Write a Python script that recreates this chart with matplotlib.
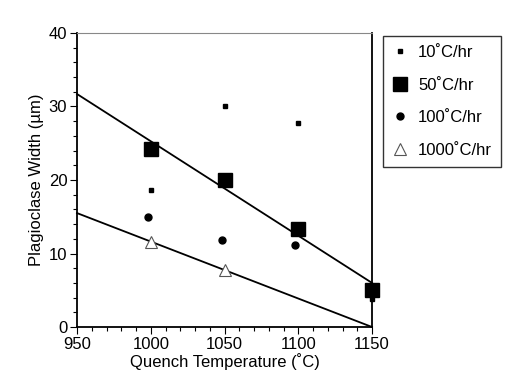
import matplotlib
matplotlib.use("Agg")
import matplotlib.pyplot as plt
from matplotlib.ticker import MultipleLocator

plt.rcParams['font.family'] = ['Liberation Sans', 'DejaVu Sans']

# data
t10 = [1000, 1050, 1100, 1150]
w10 = [18.6, 30.1, 27.8, 3.8]
t50 = [1000, 1050, 1100, 1150]
w50 = [24.2, 20.0, 13.3, 5.0]
t100 = [998, 1048, 1098]
w100 = [15.0, 11.9, 11.2]
t1000 = [1000, 1050]
w1000 = [11.6, 7.8]

# fitted lines
fit_x = [950, 1150]
fit_upper = [31.7, 6.0]
fit_lower = [15.5, 0.0]

fig = plt.figure(figsize=(5.19, 3.86), dpi=100)
ax = fig.add_axes([77/519, 1 - 327/386, 295/519, 294/386])

ax.plot(fit_x, fit_upper, color="black", lw=1.3, clip_on=False)
ax.plot(fit_x, fit_lower, color="black", lw=1.3, clip_on=False)

ax.plot(t10, w10, "s", color="black", ms=3.5, ls="none", label="10˚C/hr", clip_on=False)
ax.plot(t50, w50, "s", color="black", ms=10, ls="none", label="50˚C/hr", clip_on=False)
ax.plot(t100, w100, "o", color="black", ms=5, ls="none", label="100˚C/hr", clip_on=False)
ax.plot(t1000, w1000, "^", mfc="white", mec="#555555", mew=0.8, ms=8, ls="none",
        label="1000˚C/hr", clip_on=False)

ax.set_xlim(950, 1150)
ax.set_ylim(0, 40)
ax.xaxis.set_major_locator(MultipleLocator(50))
ax.xaxis.set_minor_locator(MultipleLocator(10))
ax.yaxis.set_major_locator(MultipleLocator(10))
ax.yaxis.set_minor_locator(MultipleLocator(2))
ax.tick_params(which="both", direction="out", labelsize=12, width=0.8)
ax.tick_params(which="major", length=5, pad=2)
ax.tick_params(which="minor", length=3)

ax.spines["top"].set_color("#888888")
ax.spines["top"].set_linewidth(0.8)
ax.spines["right"].set_linewidth(1.3)
ax.spines["left"].set_linewidth(1.3)
ax.spines["bottom"].set_linewidth(1.3)

ax.set_xlabel("Quench Temperature (˚C)", fontsize=12, labelpad=1)
ax.set_ylabel("Plagioclase Width (µm)", fontsize=12, labelpad=3)

leg = ax.legend(loc="upper left", bbox_to_anchor=(1.037, 0.99), frameon=True, fancybox=False,
                edgecolor="black", fontsize=12, borderpad=0.55, labelspacing=1.05,
                handletextpad=0.55, handlelength=1.0, borderaxespad=0)
leg.get_frame().set_linewidth(1.0)

plt.savefig("out.png", dpi=100)
